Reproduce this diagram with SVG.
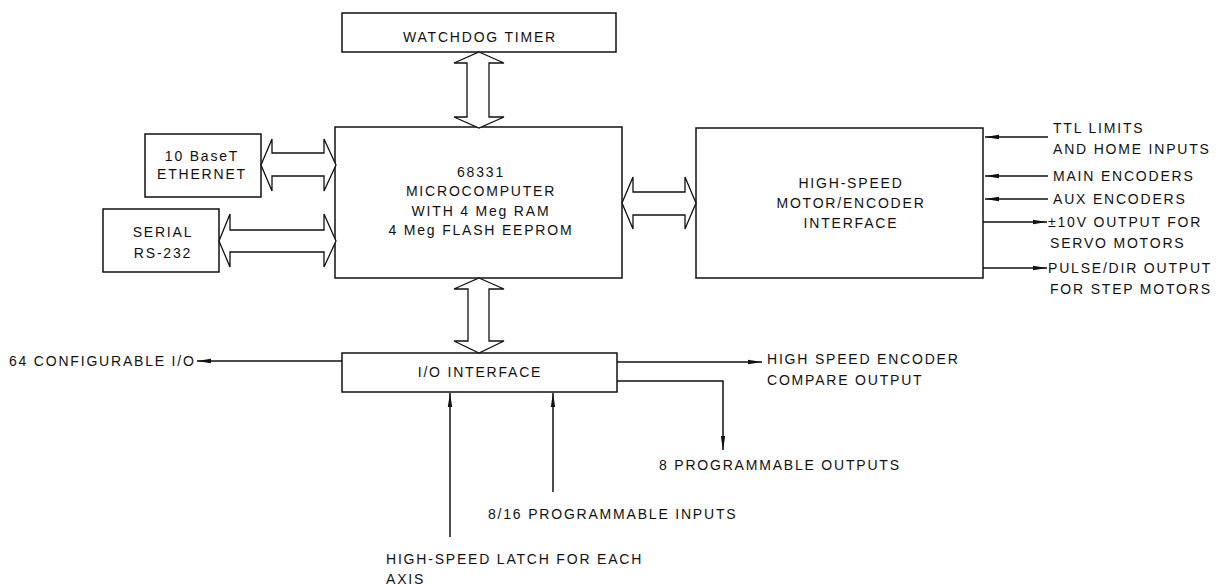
<svg xmlns="http://www.w3.org/2000/svg" width="1223" height="585" viewBox="0 0 1223 585">
<style>
.box{fill:#fff;stroke:#111;stroke-width:1.5}
.bus{fill:#fff;stroke:#111;stroke-width:1.3;stroke-linejoin:miter}
.ln{fill:none;stroke:#111;stroke-width:1.5}
text{font-family:"Liberation Sans",Arial,sans-serif;font-size:14px;letter-spacing:1.8px;fill:#111}
.c{text-anchor:middle}
</style>
<defs>
<marker id="ah" viewBox="0 0 14 6" refX="14" refY="3" markerWidth="14" markerHeight="6" markerUnits="userSpaceOnUse" orient="auto">
<path d="M0,0.8 L14,3 L0,5.2 Z" fill="#111"/>
</marker>
</defs>
<rect width="1223" height="585" fill="#fff"/>

<g id="watchdog">
<rect class="box" x="342" y="13" width="274" height="39"/>
<text class="c" x="480" y="42">WATCHDOG TIMER</text>
</g>

<g id="micro">
<rect class="box" x="335" y="127" width="287" height="151"/>
<text class="c" x="481" y="177">68331</text>
<text class="c" x="481" y="196">MICROCOMPUTER</text>
<text class="c" x="481" y="216">WITH 4 Meg RAM</text>
<text class="c" x="481" y="235">4 Meg FLASH EEPROM</text>
</g>

<g id="ethernet">
<rect class="box" x="145" y="134" width="116" height="63"/>
<text class="c" x="202" y="161">10 BaseT</text>
<text class="c" x="202" y="179">ETHERNET</text>
</g>

<g id="serial">
<rect class="box" x="103" y="209" width="116" height="63"/>
<text class="c" x="163" y="237">SERIAL</text>
<text class="c" x="163" y="258">RS-232</text>
</g>

<g id="motor">
<rect class="box" x="696" y="128" width="287" height="150"/>
<text class="c" x="851" y="188">HIGH-SPEED</text>
<text class="c" x="851" y="208">MOTOR/ENCODER</text>
<text class="c" x="851" y="228">INTERFACE</text>
</g>

<g id="io">
<rect class="box" x="342" y="353" width="275" height="39"/>
<text class="c" x="480" y="377">I/O INTERFACE</text>
</g>

<g id="connectors">
<polygon class="bus" points="479,52 504,63 489,63 489,117 504,117 479,128 454,117 467,117 467,63 454,63"/>
<polygon class="bus" points="479,278 504,289 489,289 489,341 504,341 479,353 454,341 468,341 468,289 454,289"/>
<polygon class="bus" points="261,165 272,139 272,153 324,153 324,139 336,165 324,191 324,176 272,176 272,191"/>
<polygon class="bus" points="219,241 230,214 230,230 324,230 324,214 336,241 324,267 324,252 230,252 230,267"/>
<polygon class="bus" points="622,203 633,177 633,192 685,192 685,177 696,203 685,229 685,215 633,215 633,229"/>

<path class="ln" d="M1048,137 H985" marker-end="url(#ah)"/>
<path class="ln" d="M1048,176 H985" marker-end="url(#ah)"/>
<path class="ln" d="M1048,199 H985" marker-end="url(#ah)"/>
<path class="ln" d="M983,222 H1047" marker-end="url(#ah)"/>
<path class="ln" d="M983,268 H1047" marker-end="url(#ah)"/>

<path class="ln" d="M342,361 H197" marker-end="url(#ah)"/>
<path class="ln" d="M617,362 H762" marker-end="url(#ah)"/>
<path class="ln" d="M617,381 H723 V450" marker-end="url(#ah)"/>
<path class="ln" d="M450,537 V393" marker-end="url(#ah)"/>
<path class="ln" d="M553,492 V393" marker-end="url(#ah)"/>
</g>

<g id="labels">
<text x="1053" y="133">TTL LIMITS</text>
<text x="1053" y="154">AND HOME INPUTS</text>
<text x="1053" y="181">MAIN ENCODERS</text>
<text x="1053" y="204">AUX ENCODERS</text>
<text x="1048" y="227">±10V OUTPUT FOR</text>
<text x="1050" y="248">SERVO MOTORS</text>
<text x="1048" y="273">PULSE/DIR OUTPUT</text>
<text x="1050" y="294">FOR STEP MOTORS</text>
<text x="9" y="366">64 CONFIGURABLE I/O</text>
<text x="767" y="364">HIGH SPEED ENCODER</text>
<text x="767" y="385">COMPARE OUTPUT</text>
<text x="659" y="470">8 PROGRAMMABLE OUTPUTS</text>
<text x="488" y="519">8/16 PROGRAMMABLE INPUTS</text>
<text x="386" y="564">HIGH-SPEED LATCH FOR EACH</text>
<text x="386" y="584">AXIS</text>
</g>
</svg>
